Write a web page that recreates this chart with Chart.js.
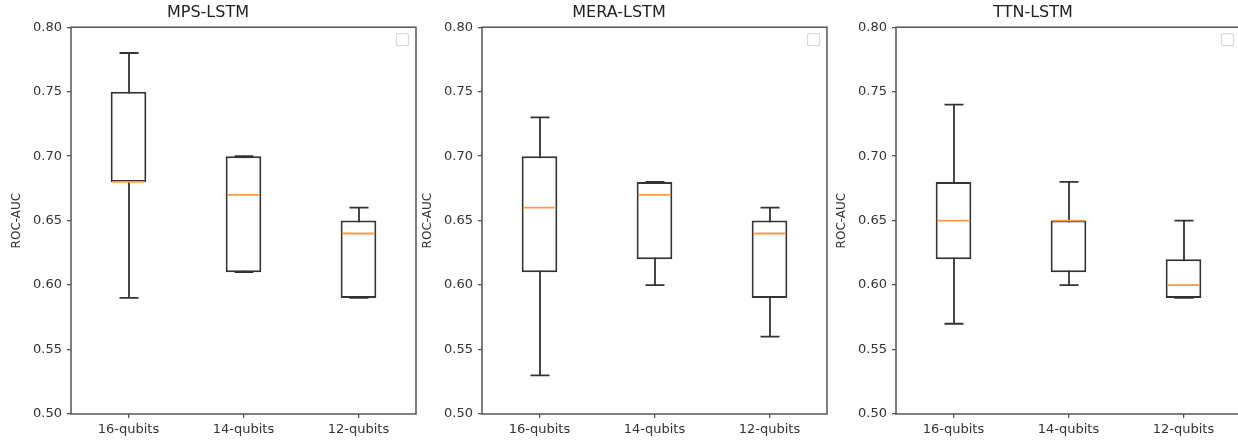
<!DOCTYPE html>
<html lang="en">
<head>
<meta charset="UTF-8" />
<title>ROC-AUC box plots</title>
<style>
  html, body { margin: 0; padding: 0; background: #fff; overflow: hidden; }
  body { width: 1238px; height: 442px; position: relative; }
  .panel { position: absolute; top: 0; width: 420px; height: 442px; }
</style>
</head>
<body>

<div class="panel" style="left:0px"><canvas id="c0"></canvas></div>
<div class="panel" style="left:411px"><canvas id="c1"></canvas></div>
<div class="panel" style="left:825px"><canvas id="c2"></canvas></div>

<script src="https://cdn.jsdelivr.net/npm/chart.js"></script>
<script>
  // categories and tick labels
  const categories = ['16-qubits', '14-qubits', '12-qubits'];
  const titles = ['MPS-LSTM', 'MERA-LSTM', 'TTN-LSTM'];
  const yTicks = [0.50, 0.55, 0.60, 0.65, 0.70, 0.75, 0.80];

  // box stats per model, one entry per category: [min, q1, median, q3, max]
  const mpsStats  = [[0.59, 0.68, 0.68, 0.75, 0.78], [0.61, 0.61, 0.67, 0.70, 0.70], [0.59, 0.59, 0.64, 0.65, 0.66]];
  const meraStats = [[0.53, 0.61, 0.66, 0.70, 0.73], [0.60, 0.62, 0.67, 0.68, 0.68], [0.56, 0.59, 0.64, 0.65, 0.66]];
  const ttnStats  = [[0.57, 0.62, 0.65, 0.68, 0.74], [0.60, 0.61, 0.65, 0.65, 0.68], [0.59, 0.59, 0.60, 0.62, 0.65]];

  const allStats = [mpsStats, meraStats, ttnStats];

  // whiskers, medians, frame and the empty legend box
  const boxExtras = {
    id: 'boxExtras',
    beforeDatasetsDraw(chart) {
      const ctx = chart.ctx;
      const xs = chart.scales.x, ys = chart.scales.y;
      const stats = chart.config.options.plugins.boxExtras.stats;
      ctx.save();
      ctx.strokeStyle = '#333';
      ctx.lineWidth = 1.8;
      stats.forEach((s, i) => {
        const x = Math.round(xs.getPixelForValue(i));
        const half = 9.5;
        const yMin = ys.getPixelForValue(s[0]);
        const yMax = ys.getPixelForValue(s[4]);
        ctx.beginPath();
        ctx.moveTo(x, yMin); ctx.lineTo(x, yMax);
        ctx.moveTo(x - half, yMin); ctx.lineTo(x + half, yMin);
        ctx.moveTo(x - half, yMax); ctx.lineTo(x + half, yMax);
        ctx.stroke();
      });
      ctx.restore();
    },
    afterDatasetsDraw(chart) {
      const ctx = chart.ctx;
      const ys = chart.scales.y;
      const stats = chart.config.options.plugins.boxExtras.stats;
      const meta = chart.getDatasetMeta(0);
      ctx.save();
      ctx.strokeStyle = '#ff9a45';
      ctx.lineWidth = 1.8;
      stats.forEach((s, i) => {
        const bar = meta.data[i];
        const w = bar.width / 2;
        const y = ys.getPixelForValue(s[2]);
        ctx.beginPath();
        ctx.moveTo(bar.x - w + 1.5, y); ctx.lineTo(bar.x + w - 1.5, y);
        ctx.stroke();
      });
      const a = chart.chartArea;
      ctx.strokeStyle = '#555';
      ctx.lineWidth = 1.5;
      ctx.strokeRect(a.left, a.top, a.right - a.left, a.bottom - a.top);
      // empty legend frame
      ctx.strokeStyle = '#d8d8d8';
      ctx.lineWidth = 1.2;
      ctx.beginPath();
      ctx.roundRect(a.right - 19.5, a.top + 6.5, 12, 12, 2);
      ctx.stroke();
      ctx.restore();
    }
  };

  function makeChart(k) {
    const stats = allStats[k];
    const ctx = document.getElementById('c' + k).getContext('2d');
    return new Chart(ctx, {
      type: 'bar',
      data: {
        labels: categories,
        datasets: [{
          data: stats.map(s => [s[1], s[3]]),
          backgroundColor: '#ffffff',
          borderColor: '#333',
          borderWidth: 2,
          borderSkipped: false,
          barPercentage: 0.31,
          categoryPercentage: 1.0
        }]
      },
      options: {
        responsive: true,
        maintainAspectRatio: false,
        animation: false,
        layout: { padding: { left: 0, right: 4, top: 0, bottom: 0 } },
        plugins: {
          legend: { display: false },
          tooltip: { enabled: false },
          title: {
            display: true,
            text: titles[k],
            color: '#222',
            font: { family: 'DejaVu Sans', size: 16, weight: 'normal' },
            padding: { top: 3, bottom: 5 }
          },
          boxExtras: { stats: stats }
        },
        scales: {
          x: {
            offset: true,
            border: { display: false },
            grid: { display: true, drawOnChartArea: false, drawTicks: true, tickLength: 4, offset: false, color: '#555', lineWidth: 1.3 },
            ticks: { color: '#333', padding: 4, font: { family: 'DejaVu Sans', size: 13 } },
            afterFit(scale) { scale.height = 28; }
          },
          y: {
            min: 0.5,
            max: 0.8,
            border: { display: false },
            grid: { display: true, drawOnChartArea: false, drawTicks: true, tickLength: 4, color: '#555', lineWidth: 1.3 },
            afterBuildTicks(scale) { scale.ticks = yTicks.map(v => ({ value: v })); },
            ticks: {
              color: '#333',
              padding: 5,
              font: { family: 'DejaVu Sans', size: 13 },
              callback: v => Number(v).toFixed(2)
            },
            title: {
              display: true,
              text: 'ROC-AUC',
              color: '#333',
              font: { family: 'DejaVu Sans', size: 12 },
              padding: { top: 10, bottom: 0 }
            },
            afterFit(scale) { scale.width = 71; }
          }
        }
      },
      plugins: [boxExtras]
    });
  }

  titles.forEach((t, k) => makeChart(k));
</script>

</body>
</html>
